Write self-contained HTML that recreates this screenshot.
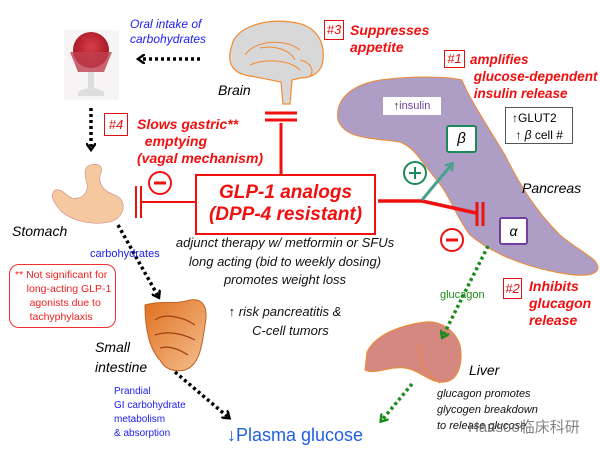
<!DOCTYPE html>
<html><head><meta charset="utf-8"><style>
body{margin:0;width:600px;height:450px;background:#fff;overflow:hidden;position:relative;font-family:"Liberation Sans","Noto Sans CJK SC",sans-serif}
.t{position:absolute;white-space:nowrap}
.ri{color:#f01010;font-weight:bold;font-style:italic;font-size:14px;line-height:17px}
.bi{font-style:italic;font-size:13px;color:#111;line-height:18.5px}
.box{position:absolute;border:1.5px solid #e01010;color:#e01010;font-style:italic;font-size:13px;text-align:center}
</style></head><body>
<svg width="600" height="450" style="position:absolute;left:0;top:0">
<defs>
<marker id="ah" markerWidth="10" markerHeight="10" refX="5" refY="5" orient="auto" markerUnits="userSpaceOnUse"><path d="M0,0 L7,5 L0,10" fill="none" stroke="#000" stroke-width="2.5"/></marker>
<marker id="ag" markerWidth="10" markerHeight="10" refX="5" refY="5" orient="auto" markerUnits="userSpaceOnUse"><path d="M0,0 L7,5 L0,10" fill="none" stroke="#1a8a1a" stroke-width="2.5"/></marker>
<marker id="at" markerWidth="10" markerHeight="10" refX="6" refY="5" orient="auto" markerUnits="userSpaceOnUse"><path d="M0,0 L7,5 L0,10" fill="none" stroke="#4aa090" stroke-width="2.5"/></marker>
<radialGradient id="ic" cx="0.5" cy="0.4" r="0.6"><stop offset="0" stop-color="#d84048"/><stop offset="1" stop-color="#a01020"/></radialGradient>
<linearGradient id="ig" x1="0" y1="0" x2="1" y2="1"><stop offset="0" stop-color="#e07020"/><stop offset="1" stop-color="#f4c090"/></linearGradient>
</defs>
<path d="M338,120 C335,100 350,85 380,80 C410,76 445,76 462,80 C470,100 490,130 505,155 C520,185 535,210 560,235 C580,252 598,258 598,268 C596,278 575,276 555,272 C520,265 490,252 470,235 C455,215 450,195 435,178 C420,160 415,148 400,142 C375,138 345,140 338,120 Z" fill="#ae9ec6" stroke="#f08a30" stroke-width="1"/>
<rect x="64" y="30" width="55" height="70" fill="#f6f4f4"/>
<circle cx="91" cy="50" r="18" fill="url(#ic)"/>
<path d="M70,52 L112,52 L104,72 L78,72 Z" fill="#c04050" opacity="0.8"/>
<path d="M88,72 L94,72 L94,88 L88,88Z M78,92 Q91,84 104,92 L104,96 L78,96Z" fill="#ddd"/>
<path d="M232,45 C235,28 265,18 290,22 C315,24 325,40 323,60 C322,72 312,78 300,78 L292,80 L290,104 L283,104 L281,82 C270,80 262,78 250,76 C235,74 225,65 232,45 Z" fill="#d8d8d8" stroke="#f08a30" stroke-width="1.2"/>
<path d="M245,55 C255,40 285,38 300,50 M250,65 C265,58 290,60 300,70 M260,48 C275,45 290,50 295,60 M300,60 C310,62 315,70 310,76" fill="none" stroke="#f08a30" stroke-width="1"/>
<path d="M90,165 C100,162 104,168 100,175 C98,185 105,192 115,195 C128,200 125,218 110,222 C90,226 70,220 60,210 C52,200 50,195 55,190 C62,188 66,196 72,198 C84,200 90,190 86,180 C84,172 85,167 90,165 Z" fill="#f6c8a0" stroke="#c88" stroke-width="0.6"/>
<path d="M145,305 C160,300 175,305 190,300 C205,298 208,310 205,325 C202,345 200,365 185,370 C175,372 165,370 160,360 C150,350 145,330 145,305 Z" fill="url(#ig)" stroke="#c06020" stroke-width="1"/>
<path d="M155,320 C165,312 185,318 195,325 M155,335 C170,330 185,335 195,340 M160,348 C170,345 180,350 188,355" fill="none" stroke="#a04010" stroke-width="1.2"/>
<path d="M367,352 C375,335 400,325 425,322 C440,320 455,330 460,345 C463,360 460,380 445,382 C430,384 420,370 405,368 C390,366 375,375 365,370 Z" fill="#d48880" stroke="#f08a30" stroke-width="1"/>
<path d="M420,345 C418,360 425,375 440,383" fill="none" stroke="#f08a30" stroke-width="1"/>
<g stroke="#000" stroke-width="3.5" stroke-dasharray="3,3" fill="none">
<line x1="200" y1="59" x2="140" y2="59" marker-end="url(#ah)"/>
<line x1="91" y1="108" x2="91" y2="148" marker-end="url(#ah)"/>
<line x1="118" y1="225" x2="158" y2="296" marker-end="url(#ah)"/>
<line x1="175" y1="372" x2="228" y2="417" marker-end="url(#ah)"/>
</g>
<g stroke="#1a8a1a" stroke-width="3.5" stroke-dasharray="3,3" fill="none">
<line x1="488" y1="246" x2="443" y2="336" marker-end="url(#ag)"/>
<line x1="412" y1="384" x2="382" y2="420" marker-end="url(#ag)"/>
</g>
<g stroke="#f01010" fill="none">
<line x1="281" y1="123" x2="281" y2="175" stroke-width="3"/>
<line x1="265" y1="113" x2="297" y2="113" stroke-width="3"/>
<line x1="265" y1="120" x2="297" y2="120" stroke-width="3"/>
<line x1="195" y1="202" x2="140" y2="202" stroke-width="2"/>
<line x1="136" y1="186" x2="136" y2="218" stroke-width="2"/>
<line x1="141" y1="186" x2="141" y2="218" stroke-width="2"/>
<line x1="378" y1="201" x2="422" y2="201" stroke-width="3.5"/>
<line x1="422" y1="201" x2="476" y2="213" stroke-width="3.5"/>
<line x1="477" y1="202" x2="477" y2="226" stroke-width="3"/>
<line x1="483" y1="202" x2="483" y2="226" stroke-width="3"/>
<circle cx="160" cy="183" r="11" stroke-width="2"/>
<line x1="154" y1="183" x2="166" y2="183" stroke-width="3"/>
<circle cx="452" cy="240" r="11" stroke-width="2"/>
<line x1="446" y1="240" x2="458" y2="240" stroke-width="3"/>
</g>
<line x1="422" y1="200" x2="452" y2="164" stroke="#4aa090" stroke-width="3" marker-end="url(#at)"/>
<g stroke="#1a8a5a" stroke-width="2" fill="none"><circle cx="415" cy="173" r="11"/><line x1="409" y1="173" x2="421" y2="173"/><line x1="415" y1="167" x2="415" y2="179"/></g>
</svg>

<div class="t" style="left:130px;top:17px;color:#2020f0;font-style:italic;font-size:12px;line-height:15px">Oral intake of<br>carbohydrates</div>
<div class="t" style="left:218px;top:82px;font-style:italic;font-size:14px">Brain</div>
<div class="box" style="left:324px;top:20px;width:18px;height:18px;line-height:18px">#3</div>
<div class="t ri" style="left:350px;top:22px">Suppresses<br>appetite</div>
<div class="box" style="left:444px;top:50px;width:19px;height:16px;line-height:16px">#1</div>
<div class="t ri" style="left:470px;top:51px;font-size:13.5px">amplifies<br>&nbsp;glucose-dependent<br>&nbsp;insulin release</div>
<div class="box" style="left:104px;top:113px;width:22px;height:21px;line-height:21px">#4</div>
<div class="t ri" style="left:137px;top:116px">Slows gastric**<br>&nbsp;&nbsp;emptying<br>(vagal mechanism)</div>
<div style="position:absolute;left:195px;top:174px;width:181px;border:2px solid #f01010;color:#f01010;font-weight:bold;font-style:italic;font-size:19px;line-height:22px;text-align:center;padding-top:6px;box-sizing:border-box;height:61px">GLP-1 analogs<br>(DPP-4 resistant)</div>
<div class="t" style="left:383px;top:97px;width:58px;height:18px;background:#fff;font-size:11px;line-height:18px;color:#7040a0;text-align:center"><span style="color:#222">↑</span>insulin</div>
<div class="t" style="left:446px;top:125px;width:27px;height:24px;background:#fff;border:2px solid #1a8a5a;border-radius:3px;font-style:italic;font-size:15px;line-height:24px;text-align:center">β</div>
<div class="t" style="left:505px;top:107px;width:68px;height:37px;background:#fff;border:1px solid #555;font-size:12px;line-height:17px;padding:2px 0 0 6px;box-sizing:border-box">↑GLUT2<br>&nbsp;↑ <i>β</i> cell #</div>
<div class="t" style="left:522px;top:180px;font-style:italic;font-size:14px">Pancreas</div>
<div class="t" style="left:499px;top:217px;width:25px;height:24px;background:#fff;border:2px solid #7040a0;border-radius:3px;font-style:italic;font-size:14px;line-height:24px;text-align:center">α</div>
<div class="t" style="left:12px;top:223px;font-style:italic;font-size:14px">Stomach</div>
<div class="t" style="left:90px;top:248px;color:#2020f0;font-size:11px">carbohydrates</div>
<div class="t bi" style="left:165px;top:234px;width:240px;text-align:center">adjunct therapy w/ metformin or SFUs<br>long acting (bid to weekly dosing)<br>promotes weight loss</div>
<div class="t bi" style="left:195px;top:303px;width:180px;text-align:center">↑ risk pancreatitis &amp;<br>&nbsp;&nbsp;&nbsp;C-cell tumors</div>
<div style="position:absolute;left:9px;top:264px;width:107px;height:64px;border:1px solid #f03030;border-radius:10px;color:#f02020;font-size:10.5px;line-height:14px;padding-top:3px;box-sizing:border-box;padding-left:5px">** Not significant for<br>&nbsp;&nbsp;&nbsp;&nbsp;long-acting GLP-1<br>&nbsp;&nbsp;&nbsp;&nbsp;&nbsp;agonists due to<br>&nbsp;&nbsp;&nbsp;&nbsp;&nbsp;tachyphylaxis</div>
<div class="t" style="left:95px;top:337px;font-style:italic;font-size:14px;line-height:20px">Small<br>intestine</div>
<div class="t" style="left:114px;top:385px;color:#2020f0;font-size:10px;line-height:14px">Prandial<br>GI carbohydrate<br>metabolism<br>&amp; absorption</div>
<div class="t" style="left:227px;top:425px;color:#2060e0;font-size:18px">↓Plasma glucose</div>
<div class="t" style="left:440px;top:289px;color:#1a8a1a;font-size:11px">glucagon</div>
<div class="box" style="left:503px;top:278px;width:17px;height:19px;line-height:19px">#2</div>
<div class="t ri" style="left:529px;top:278px">Inhibits<br>glucagon<br>release</div>
<div class="t" style="left:469px;top:362px;font-style:italic;font-size:14px">Liver</div>
<div class="t" style="left:437px;top:386px;font-style:italic;font-size:11px;line-height:16px;color:#111">glucagon promotes<br>glycogen breakdown<br>to release glucose</div>
<div class="t" style="left:468px;top:416px;font-size:15px;color:#666;opacity:0.8">Hansoo临床科研</div>
</body></html>
